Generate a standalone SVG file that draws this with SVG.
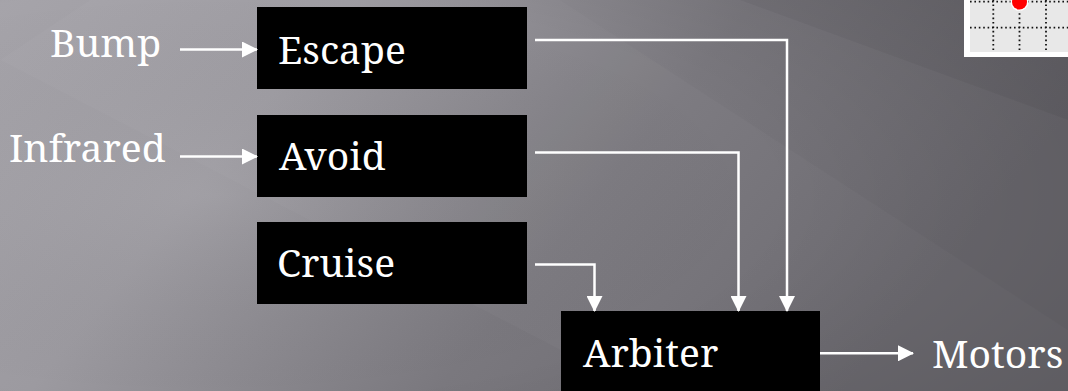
<svg xmlns="http://www.w3.org/2000/svg" width="1068" height="391" viewBox="0 0 1068 391">
  <defs>
    <linearGradient id="bg" x1="0" y1="0" x2="1" y2="0.3">
      <stop offset="0" stop-color="#a6a4aa"/>
      <stop offset="0.3" stop-color="#9c9aa0"/>
      <stop offset="0.65" stop-color="#7a787e"/>
      <stop offset="1" stop-color="#6a686e"/>
    </linearGradient>
    <radialGradient id="vig" cx="0.2" cy="0.5" r="0.95">
      <stop offset="0" stop-color="#ffffff" stop-opacity="0.06"/>
      <stop offset="0.55" stop-color="#000000" stop-opacity="0"/>
      <stop offset="1" stop-color="#000000" stop-opacity="0.14"/>
    </radialGradient>
    <marker id="ah" viewBox="0 0 16 16" refX="15" refY="8" markerWidth="16" markerHeight="16" markerUnits="userSpaceOnUse" orient="auto">
      <path d="M0,0 L16,8 L0,16 Z" fill="#ffffff"/>
    </marker>
    <style>
      .box { fill: #000000; }
      .lbl { font-family: "Noto Serif", "DejaVu Serif", serif; font-size: 39px; fill: #ffffff; }
      .wire { fill: none; stroke: #ffffff; stroke-width: 2.5; }
      .dot { fill: none; stroke: #111111; stroke-width: 1.8; stroke-dasharray: 1.6 2.8; }
    </style>
  </defs>

  <!-- background -->
  <rect x="0" y="0" width="1068" height="391" fill="url(#bg)"/>
  <polygon points="0,60 90,0 560,0 1068,330 1068,391 640,391" fill="#ffffff" opacity="0.025"/>
  <polygon points="740,0 1068,0 1068,120" fill="#000000" opacity="0.04"/>
  <rect x="0" y="0" width="1068" height="391" fill="url(#vig)"/>

  <!-- corner icon -->
  <g id="icon">
    <rect x="964" y="-2" width="106" height="59" fill="#ffffff"/>
    <rect x="970" y="-2" width="100" height="54" fill="#e8e8e8"/>
    <line class="dot" x1="970" y1="1.7" x2="1068" y2="1.7"/>
    <line class="dot" x1="970" y1="27.7" x2="1068" y2="27.7"/>
    <line class="dot" x1="993.3" y1="0" x2="993.3" y2="52"/>
    <line class="dot" x1="1019.5" y1="0" x2="1019.5" y2="52"/>
    <line class="dot" x1="1046" y1="0" x2="1046" y2="52"/>
    <circle cx="1019.5" cy="2" r="9" fill="#ffffff"/>
    <circle cx="1019.5" cy="2" r="7.5" fill="#ff0000"/>
  </g>

  <!-- input / output labels -->
  <g id="bump"><text class="lbl" x="50" y="57">Bump</text></g>
  <g id="infrared"><text class="lbl" x="9" y="161.5">Infrared</text></g>
  <g id="motors"><text class="lbl" x="932" y="368">Motors</text></g>

  <!-- nodes -->
  <g id="escape">
    <rect class="box" x="257" y="7" width="270" height="82"/>
    <text class="lbl" x="278" y="63.5">Escape</text>
  </g>
  <g id="avoid">
    <rect class="box" x="257" y="115" width="270" height="82"/>
    <text class="lbl" x="279" y="170">Avoid</text>
  </g>
  <g id="cruise">
    <rect class="box" x="257" y="222" width="270" height="82"/>
    <text class="lbl" x="277" y="277">Cruise</text>
  </g>
  <g id="arbiter">
    <rect class="box" x="561" y="311" width="259" height="82"/>
    <text class="lbl" x="583" y="366.5">Arbiter</text>
  </g>

  <!-- connectors -->
  <g id="connectors">
    <path class="wire" d="M180,49.5 H257" marker-end="url(#ah)"/>
    <path class="wire" d="M180,156.5 H257" marker-end="url(#ah)"/>
    <path class="wire" d="M535,40 H787 V311" marker-end="url(#ah)"/>
    <path class="wire" d="M535,152.5 H738.5 V311" marker-end="url(#ah)"/>
    <path class="wire" d="M535,264.5 H594.5 V311" marker-end="url(#ah)"/>
    <path class="wire" d="M820,353.3 H913" marker-end="url(#ah)"/>
  </g>
</svg>
